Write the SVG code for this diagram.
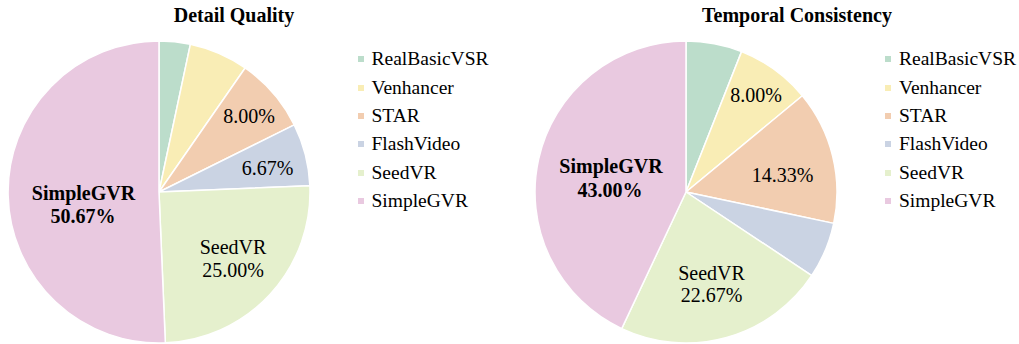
<svg xmlns="http://www.w3.org/2000/svg" width="1019" height="344" viewBox="0 0 1019 344">
<style>
.w{stroke:#fff;stroke-width:1.5;stroke-linejoin:round}
.c1{fill:#bcddcb}.c2{fill:#f9edb5}.c3{fill:#f2cdb0}.c4{fill:#cad3e3}.c5{fill:#e5f0cd}.c6{fill:#e9c9e0}
text{font-family:"Liberation Serif","Times New Roman",serif;fill:#000}
.t{font-size:20px;font-weight:bold;text-anchor:middle}
.l{font-size:20px;text-anchor:middle}
.b{font-weight:bold}
.g{font-size:19.5px}
</style>
<rect width="1019" height="344" fill="#fff"/>
<g id="chart-detail-quality">
<text class="t" x="234" y="22">Detail Quality</text>
<g id="dq-pie">
<path id="dq-realbasicvsr" class="c1 w" d="M159,192 L159,41 A151,151 0 0 1 190.36,44.29 Z"/>
<path id="dq-venhancer" class="c2 w" d="M159,192 L190.36,44.29 A151,151 0 0 1 245.13,67.97 Z"/>
<path id="dq-star" class="c3 w" d="M159,192 L245.13,67.97 A151,151 0 0 1 294.24,124.80 Z"/>
<path id="dq-flashvideo" class="c4 w" d="M159,192 L294.24,124.80 A151,151 0 0 1 309.87,185.65 Z"/>
<path id="dq-seedvr" class="c5 w" d="M159,192 L309.87,185.65 A151,151 0 0 1 165.35,342.87 Z"/>
<path id="dq-simplegvr" class="c6 w" d="M159,192 L165.35,342.87 A151,151 0 1 1 159,41 Z"/>
</g>
<g id="dq-labels">
<text class="l" x="249" y="123">8.00%</text>
<text class="l" x="267.5" y="175">6.67%</text>
<text class="l b" x="83.5" y="200">SimpleGVR</text>
<text class="l b" x="83" y="223">50.67%</text>
<text class="l" x="233" y="254">SeedVR</text>
<text class="l" x="233" y="277">25.00%</text>
</g>
<g id="dq-legend">
<rect class="c1" x="358" y="56" width="6" height="6"/><text class="g" x="371.5" y="65">RealBasicVSR</text>
<rect class="c2" x="358" y="85" width="6" height="6"/><text class="g" x="371.5" y="94">Venhancer</text>
<rect class="c3" x="358" y="113" width="6" height="6"/><text class="g" x="371.5" y="122">STAR</text>
<rect class="c4" x="358" y="141" width="6" height="6"/><text class="g" x="371.5" y="150">FlashVideo</text>
<rect class="c5" x="358" y="170" width="6" height="6"/><text class="g" x="371.5" y="179">SeedVR</text>
<rect class="c6" x="358" y="198" width="6" height="6"/><text class="g" x="371.5" y="207">SimpleGVR</text>
</g>
</g>
<g id="chart-temporal-consistency">
<text class="t" x="797" y="22">Temporal Consistency</text>
<g id="tc-pie">
<path id="tc-realbasicvsr" class="c1 w" d="M686,192 L686,41 A151,151 0 0 1 741.58,51.60 Z"/>
<path id="tc-venhancer" class="c2 w" d="M686,192 L741.58,51.60 A151,151 0 0 1 802.35,95.75 Z"/>
<path id="tc-star" class="c3 w" d="M686,192 L802.35,95.75 A151,151 0 0 1 833.71,223.36 Z"/>
<path id="tc-flashvideo" class="c4 w" d="M686,192 L833.71,223.36 A151,151 0 0 1 811.79,275.53 Z"/>
<path id="tc-seedvr" class="c5 w" d="M686,192 L811.79,275.53 A151,151 0 0 1 621.71,328.63 Z"/>
<path id="tc-simplegvr" class="c6 w" d="M686,192 L621.71,328.63 A151,151 0 0 1 686,41 Z"/>
</g>
<g id="tc-labels">
<text class="l" x="756" y="102">8.00%</text>
<text class="l" x="782.5" y="182">14.33%</text>
<text class="l b" x="611" y="173">SimpleGVR</text>
<text class="l b" x="610" y="197">43.00%</text>
<text class="l" x="711.5" y="280">SeedVR</text>
<text class="l" x="711.5" y="302">22.67%</text>
</g>
<g id="tc-legend">
<rect class="c1" x="885" y="56" width="6" height="6"/><text class="g" x="899" y="65">RealBasicVSR</text>
<rect class="c2" x="885" y="85" width="6" height="6"/><text class="g" x="899" y="94">Venhancer</text>
<rect class="c3" x="885" y="113" width="6" height="6"/><text class="g" x="899" y="122">STAR</text>
<rect class="c4" x="885" y="141" width="6" height="6"/><text class="g" x="899" y="150">FlashVideo</text>
<rect class="c5" x="885" y="170" width="6" height="6"/><text class="g" x="899" y="179">SeedVR</text>
<rect class="c6" x="885" y="198" width="6" height="6"/><text class="g" x="899" y="207">SimpleGVR</text>
</g>
</g>
</svg>
